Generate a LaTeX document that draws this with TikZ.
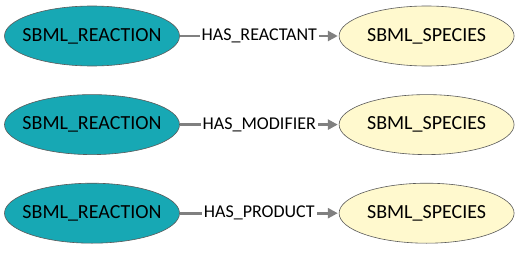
\documentclass[tikz,border=0pt]{standalone}
\usepackage{fontspec}
\setmainfont{Carlito}
\usetikzlibrary{arrows.meta, positioning, shapes.geometric}
\definecolor{rxn}{RGB}{23,168,180}
\definecolor{spc}{RGB}{255,249,206}
\definecolor{edge}{RGB}{128,128,128}
\definecolor{rim}{RGB}{90,90,90}

\begin{document}
\begin{tikzpicture}[
    x=1pt, y=-1pt,
    node distance = 28pt and 159pt,
    > = {Triangle[length=10pt, width=10pt]},
    blob/.style    = {ellipse, draw=rim, line width=0.6pt, inner xsep=-12pt, inner ysep=0pt,
                      minimum width=175pt, minimum height=60pt, font=\fontsize{20}{24}\selectfont},
    reaction/.style = {blob, fill=rxn},
    species/.style  = {blob, fill=spc},
    rel/.style      = {->, line width=2.8pt, draw=edge, shorten >=1pt},
    rellabel/.style = {fill=white, inner xsep=2pt, inner ysep=1pt, font=\fontsize{18}{21}\selectfont},
]
\useasboundingbox (0,0) rectangle (520,252);

% --------------------------------------------- reactions -------------------------------------------
\node[reaction] (r1) at (92,36) {SBML\_REACTION};
\node[reaction, below=of r1] (r2) {SBML\_REACTION};
\node[reaction, below=of r2] (r3) {SBML\_REACTION};

% --------------------------------------------- species ---------------------------------------------
\node[species, right=of r1] (s1) {SBML\_SPECIES};
\node[species, right=of r2] (s2) {SBML\_SPECIES};
\node[species, right=of r3] (s3) {SBML\_SPECIES};

% --------------------------------------------- arrows ----------------------------------------------
\draw[rel] (r1) -- node[rellabel] {HAS\_REACTANT} (s1);
\draw[rel] (r2) -- node[rellabel] {HAS\_MODIFIER} (s2);
\draw[rel] (r3) -- node[rellabel] {HAS\_PRODUCT} (s3);

\end{tikzpicture}
\end{document}
